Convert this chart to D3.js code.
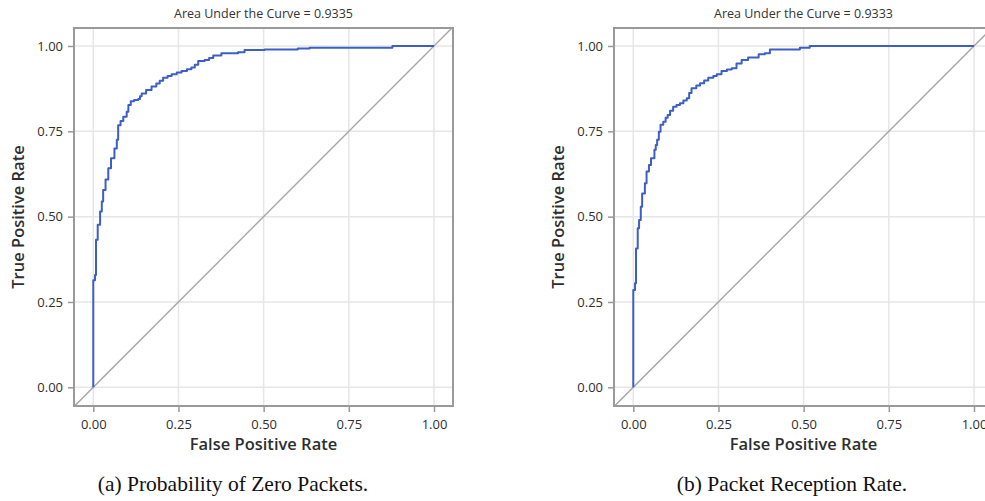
<!DOCTYPE html>
<html>
<head>
<meta charset="utf-8">
<script src="https://cdn.jsdelivr.net/npm/d3@7/dist/d3.min.js"></script>
<style>
  html, body { margin: 0; padding: 0; background: #ffffff; }
  svg { display: block; }
</style>
</head>
<body>
<svg id="chart" width="985" height="501"></svg>
<script>
// ROC curve corner points (false positive rate, true positive rate), drawn as a step-after path
const fprZero = [0, 0, 0.005, 0.008, 0.013, 0.020, 0.025, 0.029, 0.036, 0.044, 0.052, 0.062, 0.069, 0.073, 0.080, 0.088, 0.098, 0.103, 0.110, 0.120, 0.132, 0.137, 0.142, 0.155, 0.171, 0.185, 0.195, 0.205, 0.218, 0.230, 0.245, 0.259, 0.275, 0.288, 0.298, 0.308, 0.327, 0.340, 0.352, 0.376, 0.425, 0.444, 0.503, 0.600, 0.635, 0.878, 1.000];
const tprZero = [0, 0.314, 0.329, 0.432, 0.476, 0.515, 0.544, 0.578, 0.609, 0.642, 0.671, 0.700, 0.725, 0.768, 0.780, 0.793, 0.807, 0.827, 0.838, 0.842, 0.845, 0.853, 0.861, 0.871, 0.881, 0.890, 0.898, 0.907, 0.912, 0.917, 0.922, 0.927, 0.932, 0.937, 0.945, 0.956, 0.959, 0.965, 0.972, 0.979, 0.982, 0.988, 0.990, 0.993, 0.995, 1.000, 1.000];

const fprPrr = [0, 0, 0.005, 0.008, 0.013, 0.017, 0.022, 0.026, 0.034, 0.039, 0.046, 0.052, 0.062, 0.066, 0.070, 0.075, 0.080, 0.088, 0.095, 0.101, 0.108, 0.117, 0.127, 0.137, 0.147, 0.157, 0.164, 0.171, 0.185, 0.196, 0.208, 0.220, 0.235, 0.245, 0.259, 0.275, 0.289, 0.303, 0.318, 0.337, 0.368, 0.386, 0.401, 0.489, 0.518, 1.000];
const tprPrr = [0, 0.285, 0.305, 0.407, 0.466, 0.490, 0.529, 0.568, 0.598, 0.632, 0.651, 0.671, 0.696, 0.710, 0.725, 0.749, 0.769, 0.778, 0.790, 0.798, 0.810, 0.822, 0.827, 0.832, 0.840, 0.847, 0.862, 0.876, 0.884, 0.891, 0.899, 0.907, 0.912, 0.917, 0.927, 0.931, 0.935, 0.949, 0.959, 0.966, 0.976, 0.979, 0.990, 0.995, 1.000, 1.000];

const panelTitles = ["Area Under the Curve = 0.9335", "Area Under the Curve = 0.9333"];
const captions = ["(a) Probability of Zero Packets.", "(b) Packet Reception Rate."];
const tickValues = [0, 0.25, 0.5, 0.75, 1];
const xAxisTitle = "False Positive Rate";
const yAxisTitle = "True Positive Rate";

const panels = [
  { left: 74, fpr: fprZero, tpr: tprZero, title: panelTitles[0], caption: captions[0], captionX: 233 },
  { left: 614, fpr: fprPrr, tpr: tprPrr, title: panelTitles[1], caption: captions[1], captionX: 792 }
];

const svg = d3.select("#chart");
const panelTop = 28, w = 379, h = 378;
const font = "'Open Sans', 'DejaVu Sans', sans-serif";

const x = d3.scaleLinear().domain([-0.0566, 1.0558]).range([0, w]);
const y = d3.scaleLinear().domain([-0.0548, 1.0527]).range([h, 0]);
const fmt = d3.format(".2f");

panels.forEach((p, i) => {
  const g = svg.append("g").attr("transform", `translate(${p.left},${panelTop})`);
  const clipId = "clip" + i;
  g.append("clipPath").attr("id", clipId)
    .append("rect").attr("width", w).attr("height", h);

  // grid
  const grid = g.append("g");
  grid.selectAll(".vx").data(tickValues).join("line")
    .attr("x1", d => x(d)).attr("x2", d => x(d))
    .attr("y1", 0).attr("y2", h)
    .attr("stroke", "#e6e6e6").attr("stroke-width", 1.5);
  grid.selectAll(".hy").data(tickValues).join("line")
    .attr("y1", d => y(d)).attr("y2", d => y(d))
    .attr("x1", 0).attr("x2", w)
    .attr("stroke", "#e6e6e6").attr("stroke-width", 1.5);

  const plot = g.append("g").attr("clip-path", `url(#${clipId})`);

  // chance diagonal
  const dLo = x.domain()[0], dHi = x.domain()[1];
  plot.append("line")
    .attr("x1", x(dLo)).attr("y1", y(dLo))
    .attr("x2", x(dHi)).attr("y2", y(dHi))
    .attr("stroke", "#a6a6a6").attr("stroke-width", 1.4);

  // ROC curve
  const pts = p.fpr.map((f, k) => [f, p.tpr[k]]);
  const line = d3.line().x(d => x(d[0])).y(d => y(d[1])).curve(d3.curveStepAfter);
  plot.append("path").datum(pts)
    .attr("d", line)
    .attr("fill", "none")
    .attr("stroke", "#3c5fc6")
    .attr("stroke-width", 2)
    .attr("stroke-linejoin", "round");

  // frame
  g.append("rect").attr("width", w).attr("height", h)
    .attr("fill", "none").attr("stroke", "#9a9a9a").attr("stroke-width", 2);

  // axes
  const xAxis = d3.axisBottom(x).tickValues(tickValues).tickFormat(fmt).tickSize(6).tickPadding(8);
  const yAxis = d3.axisLeft(y).tickValues(tickValues).tickFormat(fmt).tickSize(6).tickPadding(5);
  const gx = g.append("g").attr("transform", `translate(0,${h})`).call(xAxis);
  const gy = g.append("g").call(yAxis);
  [gx, gy].forEach(a => {
    a.select(".domain").remove();
    a.selectAll(".tick line").attr("stroke", "#9a9a9a").attr("stroke-width", 1.5);
    a.selectAll(".tick text")
      .attr("fill", "#2e2e2e")
      .style("font-family", font)
      .style("font-size", "13px");
  });

  // titles
  g.append("text")
    .attr("x", w / 2).attr("y", -10)
    .attr("text-anchor", "middle")
    .attr("fill", "#333")
    .style("font-family", font).style("font-size", "12.5px")
    .text(p.title);

  g.append("text")
    .attr("x", w / 2).attr("y", h + 44)
    .attr("text-anchor", "middle")
    .attr("fill", "#2e2e2e")
    .style("font-family", font).style("font-size", "16.5px").style("font-weight", 600)
    .text(xAxisTitle);

  g.append("text")
    .attr("transform", `translate(-50,${h / 2}) rotate(-90)`)
    .attr("text-anchor", "middle")
    .attr("fill", "#2e2e2e")
    .style("font-family", font).style("font-size", "16.5px").style("font-weight", 600)
    .text(yAxisTitle);

  // caption
  svg.append("text")
    .attr("x", p.captionX).attr("y", 491)
    .attr("text-anchor", "middle")
    .attr("fill", "#111")
    .style("font-family", "'Liberation Serif', 'DejaVu Serif', serif")
    .style("font-size", "21.5px")
    .text(p.caption);
});
</script>
</body>
</html>
